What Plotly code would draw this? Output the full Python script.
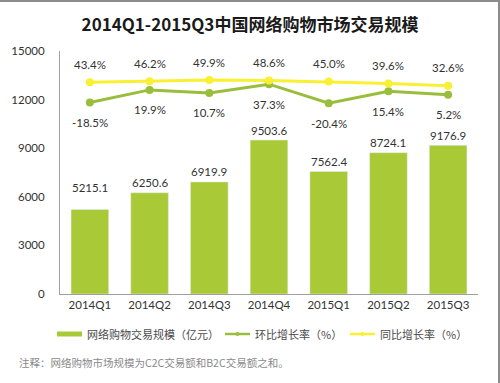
import plotly.graph_objects as go

categories = ["2014Q1", "2014Q2", "2014Q3", "2014Q4", "2015Q1", "2015Q2", "2015Q3"]
gmv = [5215.1, 6250.6, 6919.9, 9503.6, 7562.4, 8724.1, 9176.9]
qoq = [-18.5, 19.9, 10.7, 37.3, -20.4, 15.4, 5.2]
yoy = [43.4, 46.2, 49.9, 48.6, 45.0, 39.6, 32.6]
y_ticks = [0, 3000, 6000, 9000, 12000, 15000]
series_names = ["网络购物交易规模（亿元）", "环比增长率（%）", "同比增长率（%）"]

bar_color = "#A9CA36"
qoq_color = "#9BBD3C"
yoy_color = "#FAF032"
text_color = "#333333"
cjk = "Noto Sans CJK SC"
num_font = "Lato"

# plot area in pixels: x 60..478, y 51..294
PL, PR, PT, PB = 60, 478, 51, 294
PW, PH = PR - PL, PB - PT


def px(xp):
    return (xp - PL) / PW


def py(yp):
    return (PB - yp) / PH


fig = go.Figure()
fig.add_trace(go.Bar(x=categories, y=gmv, marker_color=bar_color, width=0.63,
                     showlegend=False, name=series_names[0]))
fig.add_trace(go.Scatter(x=categories, y=qoq, yaxis="y2", mode="lines+markers",
                         name=series_names[1], line=dict(color=qoq_color, width=3),
                         marker=dict(size=8, color=qoq_color), showlegend=False))
fig.add_trace(go.Scatter(x=categories, y=yoy, yaxis="y2", mode="lines+markers",
                         name=series_names[2], line=dict(color=yoy_color, width=3),
                         marker=dict(size=8, color=yoy_color), showlegend=False))

annotations = []
bar_label_shift = [22, 10, 10, 10, 10, 10, 10]
for c, v, s in zip(categories, gmv, bar_label_shift):
    annotations.append(dict(x=c, y=v, xref="x", yref="y", text=f"{v:.1f}", showarrow=False,
                            yshift=s, font=dict(family=num_font, size=11.5, color=text_color)))
for c, v in zip(categories, qoq):
    annotations.append(dict(x=c, y=v, xref="x", yref="y2", text=f"{v:.1f}%", showarrow=False,
                            yshift=-20, font=dict(family=num_font, size=11.5, color=text_color)))
for c, v in zip(categories, yoy):
    annotations.append(dict(x=c, y=v, xref="x", yref="y2", text=f"{v:.1f}%", showarrow=False,
                            yshift=18, font=dict(family=num_font, size=11.5, color=text_color)))

# custom legend
leg_y = 334
legend_items = [
    (57, 82, 85, bar_color, "bar"),
    (225, 250, 253, qoq_color, "line"),
    (350, 375, 378, yoy_color, "line"),
]
shapes = []
for (x0, x1, tx, col, kind), name in zip(legend_items, series_names):
    if kind == "bar":
        shapes.append(dict(type="rect", xref="paper", yref="paper", x0=px(x0), x1=px(x1),
                           y0=py(leg_y + 2.5), y1=py(leg_y - 2.5), fillcolor=col,
                           line=dict(width=0)))
    else:
        shapes.append(dict(type="line", xref="paper", yref="paper", x0=px(x0), x1=px(x1),
                           y0=py(leg_y), y1=py(leg_y), line=dict(color=col, width=2.5)))
        xm = (x0 + x1) / 2
        shapes.append(dict(type="circle", xref="paper", yref="paper", x0=px(xm - 2), x1=px(xm + 2),
                           y0=py(leg_y + 2), y1=py(leg_y - 2), fillcolor=col,
                           line=dict(width=0)))
    annotations.append(dict(x=px(tx), y=py(leg_y), xref="paper", yref="paper", xanchor="left",
                            yanchor="middle", showarrow=False, text=name,
                            font=dict(family=cjk, size=11, color="#4a4a4a")))

annotations.append(dict(x=px(17), y=py(362), xref="paper", yref="paper",
                        xanchor="left", yanchor="middle", showarrow=False,
                        text="注释：网络购物市场规模为C2C交易额和B2C交易额之和。",
                        font=dict(family=cjk, size=10.5, color="#8a8a8a")))

# thin grey frame on top and right edges of the image
shapes.append(dict(type="line", xref="paper", yref="paper", x0=px(0), x1=px(500),
                   y0=py(1), y1=py(1), line=dict(color="#8c8c8c", width=2)))
shapes.append(dict(type="line", xref="paper", yref="paper", x0=px(499), x1=px(499),
                   y0=py(383), y1=py(0), line=dict(color="#8c8c8c", width=2)))

fig.update_layout(
    width=500, height=383,
    margin=dict(l=PL, r=500 - PR, t=PT, b=383 - PB),
    paper_bgcolor="white", plot_bgcolor="white",
    showlegend=False,
    title=dict(text="<b>2014Q1-2015Q3中国网络购物市场交易规模</b>", x=0.5, xanchor="center",
               y=1 - 25 / 383, yanchor="middle",
               font=dict(family=cjk, size=17, color="#1a1a1a")),
    xaxis=dict(showgrid=False, showline=True, linecolor="#a0a0a0", linewidth=1,
               ticks="", tickfont=dict(family=num_font, size=11.5, color=text_color),
               range=[-0.5, 6.5]),
    yaxis=dict(range=[0, 15000], tickvals=y_ticks, tickformat="d", showgrid=False,
               zeroline=False, showline=True, linecolor="#a0a0a0", linewidth=1, ticks="",
               ticklabelstandoff=12,
               tickfont=dict(family=num_font, size=11.5, color=text_color)),
    yaxis2=dict(overlaying="y", side="right", range=[-600, 138], visible=False, showgrid=False),
    annotations=annotations,
    shapes=shapes,
)
fig.write_html("out.html", config={"displayModeBar": False},
               post_script="document.body.style.margin='0';document.body.style.overflow='hidden';")
